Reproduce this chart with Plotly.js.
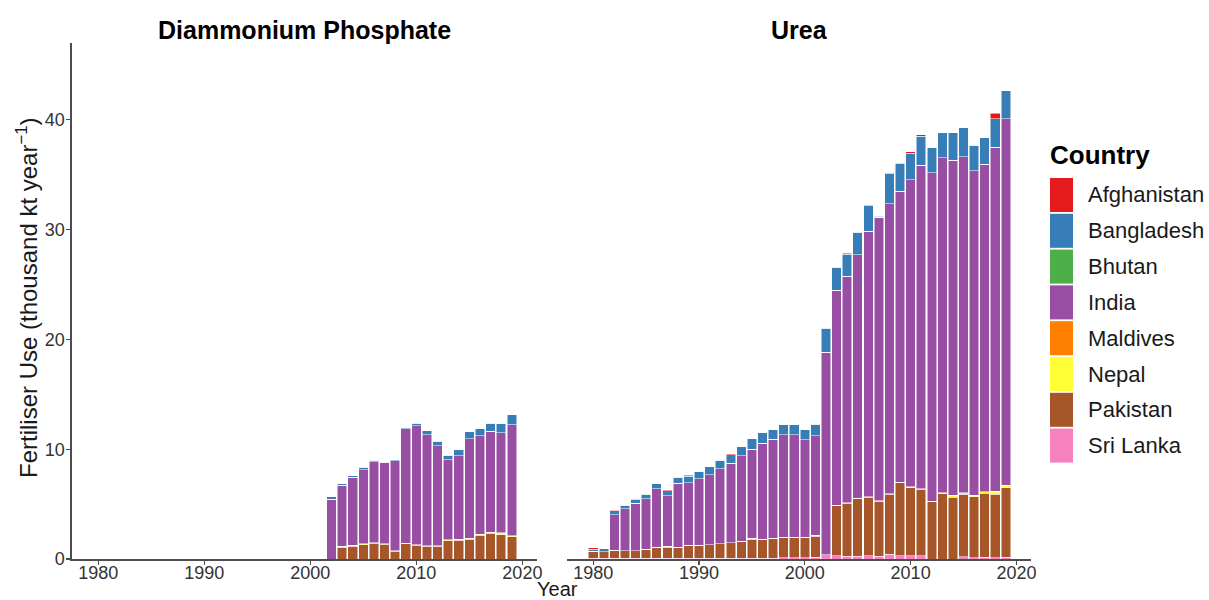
<!DOCTYPE html>
<html>
<head>
<meta charset="utf-8">
<script src="https://cdn.plot.ly/plotly-3.0.1.min.js"></script>
<style>html,body{margin:0;padding:0;background:#fff;}#chart{width:1209px;height:600px;}</style>
</head>
<body>
<div id="chart"></div>
<script>
// ---- Data (thousand kt per year) ----
const countries = ["Afghanistan","Bangladesh","Bhutan","India","Maldives","Nepal","Pakistan","Sri Lanka"];
const colors = ["#E41A1C","#377EB8","#4DAF4A","#984EA3","#FF7F00","#FFFF33","#A65628","#F781BF"];

const dapYears = [2002,2003,2004,2005,2006,2007,2008,2009,2010,2011,2012,2013,2014,2015,2016,2017,2018,2019];
const dapAfghanistan = [0,0,0,0,0,0,0,0,0,0,0,0,0,0,0,0,0,0];
const dapBangladesh = [0.24,0.12,0.15,0.22,0.13,0.04,0.09,0.09,0.22,0.34,0.40,0.43,0.55,0.64,0.64,0.73,0.82,0.94];
const dapBhutan = [0,0,0,0,0,0,0,0,0,0,0,0,0,0,0,0,0,0];
const dapIndia = [5.44,5.58,6.21,6.77,7.37,7.43,8.17,10.41,10.83,10.13,9.13,7.28,7.62,9.05,8.97,9.19,9.10,10.08];
const dapMaldives = [0,0,0,0,0,0,0,0,0,0,0,0,0,0,0,0,0,0];
const dapNepal = [0,0.06,0.06,0.07,0.05,0.04,0.04,0.05,0.05,0.05,0.05,0.07,0.08,0.09,0.12,0.12,0.17,0.10];
const dapPakistan = [0,1.08,1.18,1.30,1.45,1.33,0.72,1.39,1.27,1.15,1.15,1.67,1.72,1.80,2.15,2.33,2.22,2.03];
const dapSriLanka = [0,0,0,0,0,0,0,0,0,0,0,0,0,0,0,0,0,0];

const ureaYears = [1980,1981,1982,1983,1984,1985,1986,1987,1988,1989,
                   1990,1991,1992,1993,1994,1995,1996,1997,1998,1999,
                   2000,2001,2002,2003,2004,2005,2006,2007,2008,2009,
                   2010,2011,2012,2013,2014,2015,2016,2017,2018,2019];
const ureaAfghanistan = [0.12,0,0.05,0,0.05,0,0,0.09,0,0.10,
                         0,0,0,0.07,0,0,0,0,0,0,
                         0,0,0,0,0.05,0,0.05,0.05,0.05,0.06,
                         0.10,0.13,0,0,0,0,0,0,0.51,0];
const ureaBangladesh = [0.21,0.28,0.35,0.33,0.38,0.45,0.46,0.46,0.54,0.60,
                        0.67,0.73,0.77,0.78,0.82,0.94,0.96,0.85,0.91,0.91,
                        0.94,1.04,2.22,2.07,2.04,2.07,2.35,0.05,2.75,2.55,
                        2.42,2.63,2.31,2.28,2.50,2.61,2.31,2.44,2.58,2.55];
const ureaBhutan = [0,0,0,0,0,0,0,0,0,0,0,0,0,0,0,0,0,0,0,0,
                    0,0,0,0,0,0,0,0,0,0,0,0,0,0,0,0,0,0,0,0];
const ureaIndia = [0,0,3.25,3.83,4.34,4.56,5.29,4.60,5.81,5.68,
                   6.04,6.38,6.83,7.26,7.81,8.13,8.73,9.00,9.32,9.32,
                   8.87,9.09,18.41,19.58,20.60,22.16,24.17,25.84,26.41,26.51,
                   28.00,29.46,29.91,30.48,30.51,30.63,29.57,29.82,31.31,33.39];
const ureaMaldives = [0,0,0,0,0,0,0,0,0,0,0,0,0,0,0,0,0,0,0,0,
                      0,0,0,0,0,0,0,0,0,0,0,0,0,0,0,0,0,0,0,0];
const ureaNepal = [0,0.02,0,0,0,0,0,0.05,0,0,
                   0,0,0,0,0,0.05,0,0,0,0,
                   0,0.08,0,0.08,0.07,0.05,0.05,0.05,0.05,0.05,
                   0.05,0.05,0.05,0.12,0.18,0.13,0.12,0.13,0.30,0.25];
const ureaPakistan = [0.65,0.59,0.74,0.68,0.68,0.86,1.04,1.04,1.04,1.20,
                      1.20,1.26,1.35,1.41,1.56,1.77,1.77,1.86,1.88,1.88,
                      1.88,1.92,0,4.53,4.82,5.25,5.32,5.00,5.43,6.64,
                      6.21,6.06,5.21,5.93,5.62,5.69,5.58,5.84,5.79,6.32];
const ureaSriLanka = [0.05,0.05,0.05,0.05,0.05,0.05,0.05,0.05,0.05,0.05,
                      0.05,0.05,0.05,0.05,0.05,0.05,0.05,0.05,0.10,0.10,
                      0.10,0.15,0.40,0.30,0.25,0.25,0.30,0.26,0.45,0.30,
                      0.30,0.30,0,0,0,0.20,0.10,0.15,0.10,0.15];

const tickYears = [1980,1990,2000,2010,2020];
const tickValues = [0,10,20,30,40];

const dapData = [dapAfghanistan,dapBangladesh,dapBhutan,dapIndia,dapMaldives,dapNepal,dapPakistan,dapSriLanka];
const ureaData = [ureaAfghanistan,ureaBangladesh,ureaBhutan,ureaIndia,ureaMaldives,ureaNepal,ureaPakistan,ureaSriLanka];

// ---- Traces: stacked bottom-up from Sri Lanka to Afghanistan ----
const traces = [];
for (let i = countries.length - 1; i >= 0; i--) {
  const common = {
    type: 'bar', name: countries[i], legendgroup: countries[i],
    width: 0.9, showlegend: false,
    marker: {color: colors[i], line: {color: 'rgba(255,255,255,0.85)', width: 0.6}},
    hovertemplate: countries[i] + ' %{x}: %{y}<extra></extra>'
  };
  traces.push(Object.assign({}, common, {x: dapYears, y: dapData[i], xaxis: 'x', yaxis: 'y'}));
  traces.push(Object.assign({}, common, {x: ureaYears, y: ureaData[i], xaxis: 'x2', yaxis: 'y2'}));
}

// ---- Geometry helpers (pixel -> paper) ----
const M = {l: 72, r: 178, t: 43, b: 41};
const W = 1209, H = 600;
const pw = W - M.l - M.r, ph = H - M.t - M.b;
const px = v => (v - M.l) / pw;
const py = v => (H - M.b - v) / ph;

const FONT = 'Liberation Sans, Arial, sans-serif';
const TXT = '#1a1a1a';

// Legend drawn as keys + labels (ggplot style tall keys)
const shapes = [];
const annotations = [];
const keyTop0 = 178, keyPitch = 35.8, keyH = 34;
countries.forEach((c, i) => {
  const top = keyTop0 + i * keyPitch;
  shapes.push({type: 'rect', xref: 'paper', yref: 'paper',
    x0: px(1050), x1: px(1073), y0: py(top + keyH), y1: py(top),
    fillcolor: colors[i], line: {width: 0}});
  annotations.push({text: c, xref: 'paper', yref: 'paper', x: px(1086), y: py(top + keyH / 2),
    xanchor: 'left', yanchor: 'middle', showarrow: false,
    font: {family: FONT, size: 22, color: TXT}});
});
annotations.push({text: '<b>Country</b>', xref: 'paper', yref: 'paper', x: px(1048), y: py(155),
  xanchor: 'left', yanchor: 'middle', showarrow: false, font: {family: FONT, size: 26, color: '#000000'}});

// Panel strips, axis titles
annotations.push(
  {text: '<b>Diammonium Phosphate</b>', xref: 'paper', yref: 'paper', x: px(304.5), y: py(30),
   xanchor: 'center', yanchor: 'middle', showarrow: false, font: {family: FONT, size: 25, color: '#000000'}},
  {text: '<b>Urea</b>', xref: 'paper', yref: 'paper', x: px(799), y: py(30),
   xanchor: 'center', yanchor: 'middle', showarrow: false, font: {family: FONT, size: 25, color: '#000000'}},
  {text: 'Year', xref: 'paper', yref: 'paper', x: px(557), y: py(589),
   xanchor: 'center', yanchor: 'middle', showarrow: false, font: {family: FONT, size: 20, color: TXT}},
  {text: 'Fertiliser Use (thousand kt year<sup>\u22121</sup>)', xref: 'paper', yref: 'paper', x: px(27), y: py(298),
   xanchor: 'center', yanchor: 'middle', textangle: -90, showarrow: false,
   font: {family: FONT, size: 24, color: TXT}}
);

const xRange = [1977.52, 2021.38];
const axisCommon = {
  range: xRange, tickvals: tickYears, ticks: 'outside', ticklen: 4, tickwidth: 1.2,
  tickcolor: '#4d4d4d', showline: true, linecolor: '#4d4d4d', linewidth: 1.6,
  showgrid: false, zeroline: false, fixedrange: true, ticklabelstandoff: -7,
  tickfont: {family: FONT, size: 18, color: '#333333'}
};

const layout = {
  width: W, height: H,
  margin: {l: M.l, r: M.r, t: M.t, b: M.b, pad: 0},
  paper_bgcolor: '#ffffff', plot_bgcolor: '#ffffff',
  barmode: 'stack', bargap: 0, showlegend: false,
  font: {family: FONT, color: TXT},
  xaxis: Object.assign({}, axisCommon, {domain: [0, px(537)], anchor: 'y'}),
  xaxis2: Object.assign({}, axisCommon, {domain: [px(567), 1], anchor: 'y2'}),
  yaxis: {
    range: [0, 47], tickvals: tickValues, ticks: 'outside', ticklen: 4, tickwidth: 1.2,
    tickcolor: '#4d4d4d', showline: true, linecolor: '#4d4d4d', linewidth: 1.6,
    showgrid: false, zeroline: false, anchor: 'x', fixedrange: true, ticklabelstandoff: -2,
    tickfont: {family: FONT, size: 18, color: '#333333'}
  },
  yaxis2: {
    matches: 'y', range: [0, 47], anchor: 'x2', showline: false, showticklabels: false,
    ticks: '', showgrid: false, zeroline: false, fixedrange: true
  },
  shapes: shapes,
  annotations: annotations
};

Plotly.newPlot('chart', traces, layout, {displayModeBar: false, staticPlot: true});
</script>
</body>
</html>
